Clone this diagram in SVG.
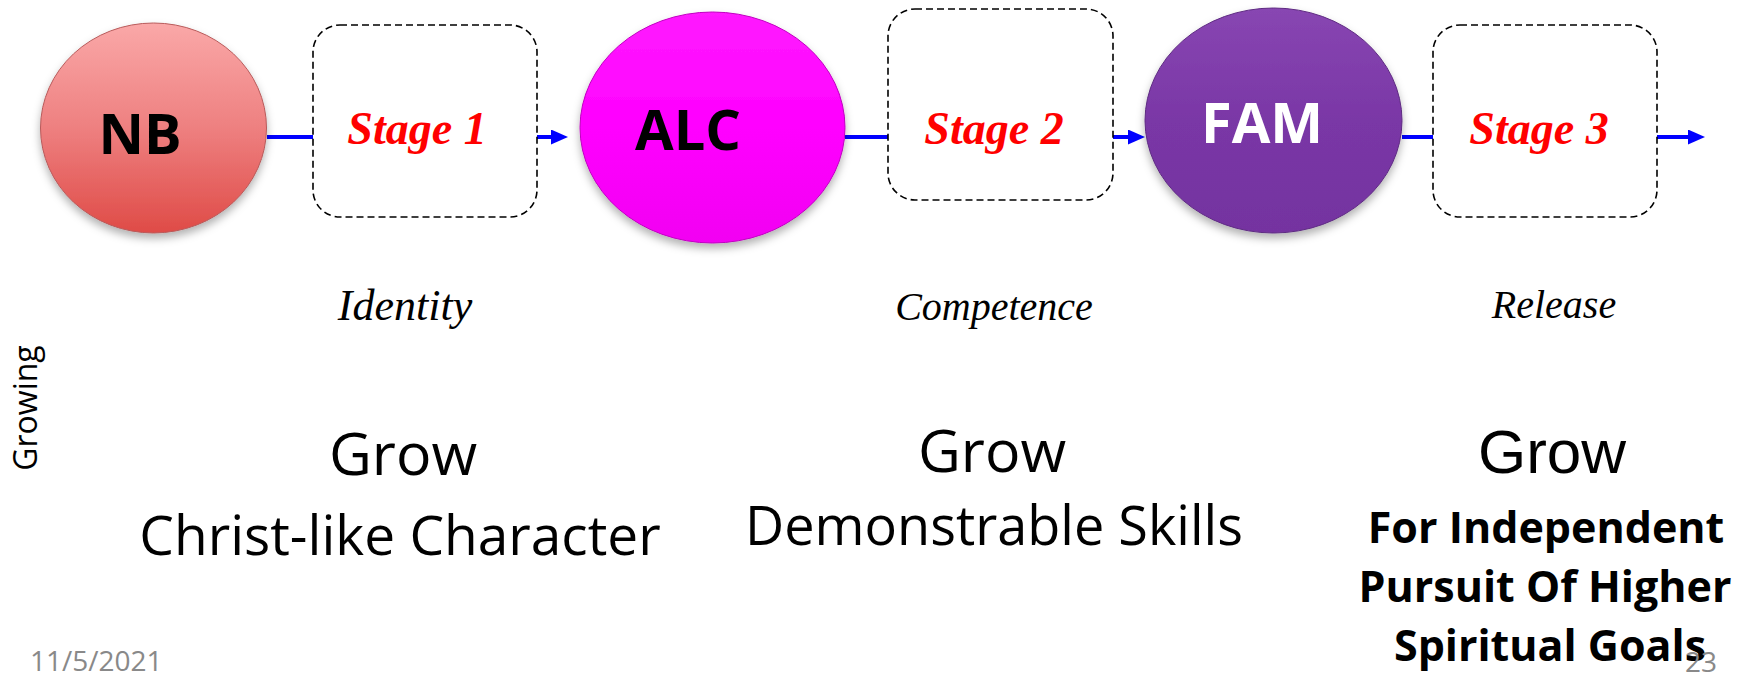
<svg xmlns="http://www.w3.org/2000/svg" width="1754" height="674" viewBox="0 0 1754 674">
  <style>
    .box { fill: none; stroke: #000; stroke-width: 1.6; stroke-dasharray: 7 4; }
    .stage { font-family: "Liberation Serif", serif; font-style: italic; font-weight: bold; font-size: 46px; fill: #FF0000; text-anchor: middle; }
    .node { font-family: "Open Sans", "Liberation Sans", sans-serif; font-weight: bold; font-size: 56px; text-anchor: middle; }
    .conn { stroke: #0000FF; stroke-width: 4; fill: none; }
    .ital { font-family: "Liberation Serif", serif; font-style: italic; fill: #000; text-anchor: middle; }
    .body { font-family: "Open Sans", "Liberation Sans", sans-serif; fill: #000; text-anchor: middle; }
    .foot { font-family: "Open Sans", "Liberation Sans", sans-serif; font-size: 28px; fill: #898989; }
  </style>
  <defs>
    <marker id="arrow" markerUnits="userSpaceOnUse" markerWidth="17" markerHeight="15" refX="5" refY="7.5" orient="auto">
      <path d="M0,0 L17,7.5 L0,15 z" fill="#0000FF"/>
    </marker>
    <linearGradient id="gNB" x1="0" y1="0" x2="0" y2="1">
      <stop offset="0" stop-color="#FAA8A8"/>
      <stop offset="0.5" stop-color="#EE8080"/>
      <stop offset="1" stop-color="#DF4B47"/>
    </linearGradient>
    <linearGradient id="gALC" x1="0" y1="0" x2="0" y2="1">
      <stop offset="0" stop-color="#FF1AFF"/>
      <stop offset="0.5" stop-color="#FF00FF"/>
      <stop offset="1" stop-color="#F200F2"/>
    </linearGradient>
    <linearGradient id="gFAM" x1="0" y1="0" x2="0" y2="1">
      <stop offset="0" stop-color="#8846B2"/>
      <stop offset="0.5" stop-color="#7A37A6"/>
      <stop offset="1" stop-color="#7433A0"/>
    </linearGradient>
    <filter id="shadow" x="-20%" y="-20%" width="140%" height="150%">
      <feDropShadow dx="0" dy="5" stdDeviation="4" flood-color="#000" flood-opacity="0.3"/>
    </filter>
  </defs>

  <g id="connectors">
    <line class="conn" x1="267" y1="137" x2="313" y2="137"/>
    <line class="conn" x1="537" y1="137" x2="556" y2="137" marker-end="url(#arrow)"/>
    <line class="conn" x1="845" y1="137" x2="888" y2="137"/>
    <line class="conn" x1="1113" y1="137" x2="1133" y2="137" marker-end="url(#arrow)"/>
    <line class="conn" x1="1402" y1="137" x2="1433" y2="137"/>
    <line class="conn" x1="1657" y1="137" x2="1693" y2="137" marker-end="url(#arrow)"/>
  </g>

  <g id="node-nb">
    <ellipse cx="153.5" cy="128" rx="113" ry="105" fill="url(#gNB)" stroke="#B85A5A" stroke-width="1" filter="url(#shadow)"/>
    <text class="node" x="140" y="154" fill="#000">NB</text>
  </g>

  <g id="stage-1">
    <rect class="box" x="313" y="25" width="224" height="192" rx="27" ry="27"/>
    <text class="stage" x="417" y="144">Stage 1</text>
  </g>

  <g id="node-alc">
    <ellipse cx="712.5" cy="127.5" rx="132.5" ry="115.5" fill="url(#gALC)" stroke="#C000C0" stroke-width="1" filter="url(#shadow)"/>
    <text class="node" x="688" y="150" fill="#000">ALC</text>
  </g>

  <g id="stage-2">
    <rect class="box" x="888" y="9" width="225" height="191" rx="27" ry="27"/>
    <text class="stage" x="994" y="144">Stage 2</text>
  </g>

  <g id="node-fam">
    <ellipse cx="1273.5" cy="120.5" rx="128.5" ry="112.5" fill="url(#gFAM)" stroke="#5E2A82" stroke-width="1" filter="url(#shadow)"/>
    <text class="node" x="1262" y="143" fill="#FFFFFF">FAM</text>
  </g>

  <g id="stage-3">
    <rect class="box" x="1433" y="25" width="224" height="192" rx="27" ry="27"/>
    <text class="stage" x="1539" y="144">Stage 3</text>
  </g>

  <g id="labels">
    <text class="ital" x="405" y="320" font-size="44">Identity</text>
    <text class="ital" x="994" y="320" font-size="40">Competence</text>
    <text class="ital" x="1554" y="318" font-size="40">Release</text>

    <text class="body" x="403" y="475" font-size="59">Grow</text>
    <text class="body" x="400" y="555" font-size="55">Christ-like Character</text>

    <text class="body" x="992" y="472" font-size="59">Grow</text>
    <text class="body" x="994" y="545" font-size="54">Demonstrable Skills</text>

    <text x="1552" y="473" font-family="Liberation Sans, sans-serif" font-size="62" fill="#000" text-anchor="middle">Grow</text>
    <text class="body" x="1546" y="543" font-size="43" font-weight="bold">For Independent</text>
    <text class="body" x="1545" y="602" font-size="43" font-weight="bold">Pursuit Of Higher</text>
    <text class="body" x="1550" y="661" font-size="43" font-weight="bold">Spiritual Goals</text>

    <text class="body" transform="translate(37,408) rotate(-90)" x="0" y="0" font-size="32">Growing</text>

    <text class="foot" x="30" y="671">11/5/2021</text>
    <text class="foot" x="1701" y="672" text-anchor="middle">23</text>
  </g>
</svg>
